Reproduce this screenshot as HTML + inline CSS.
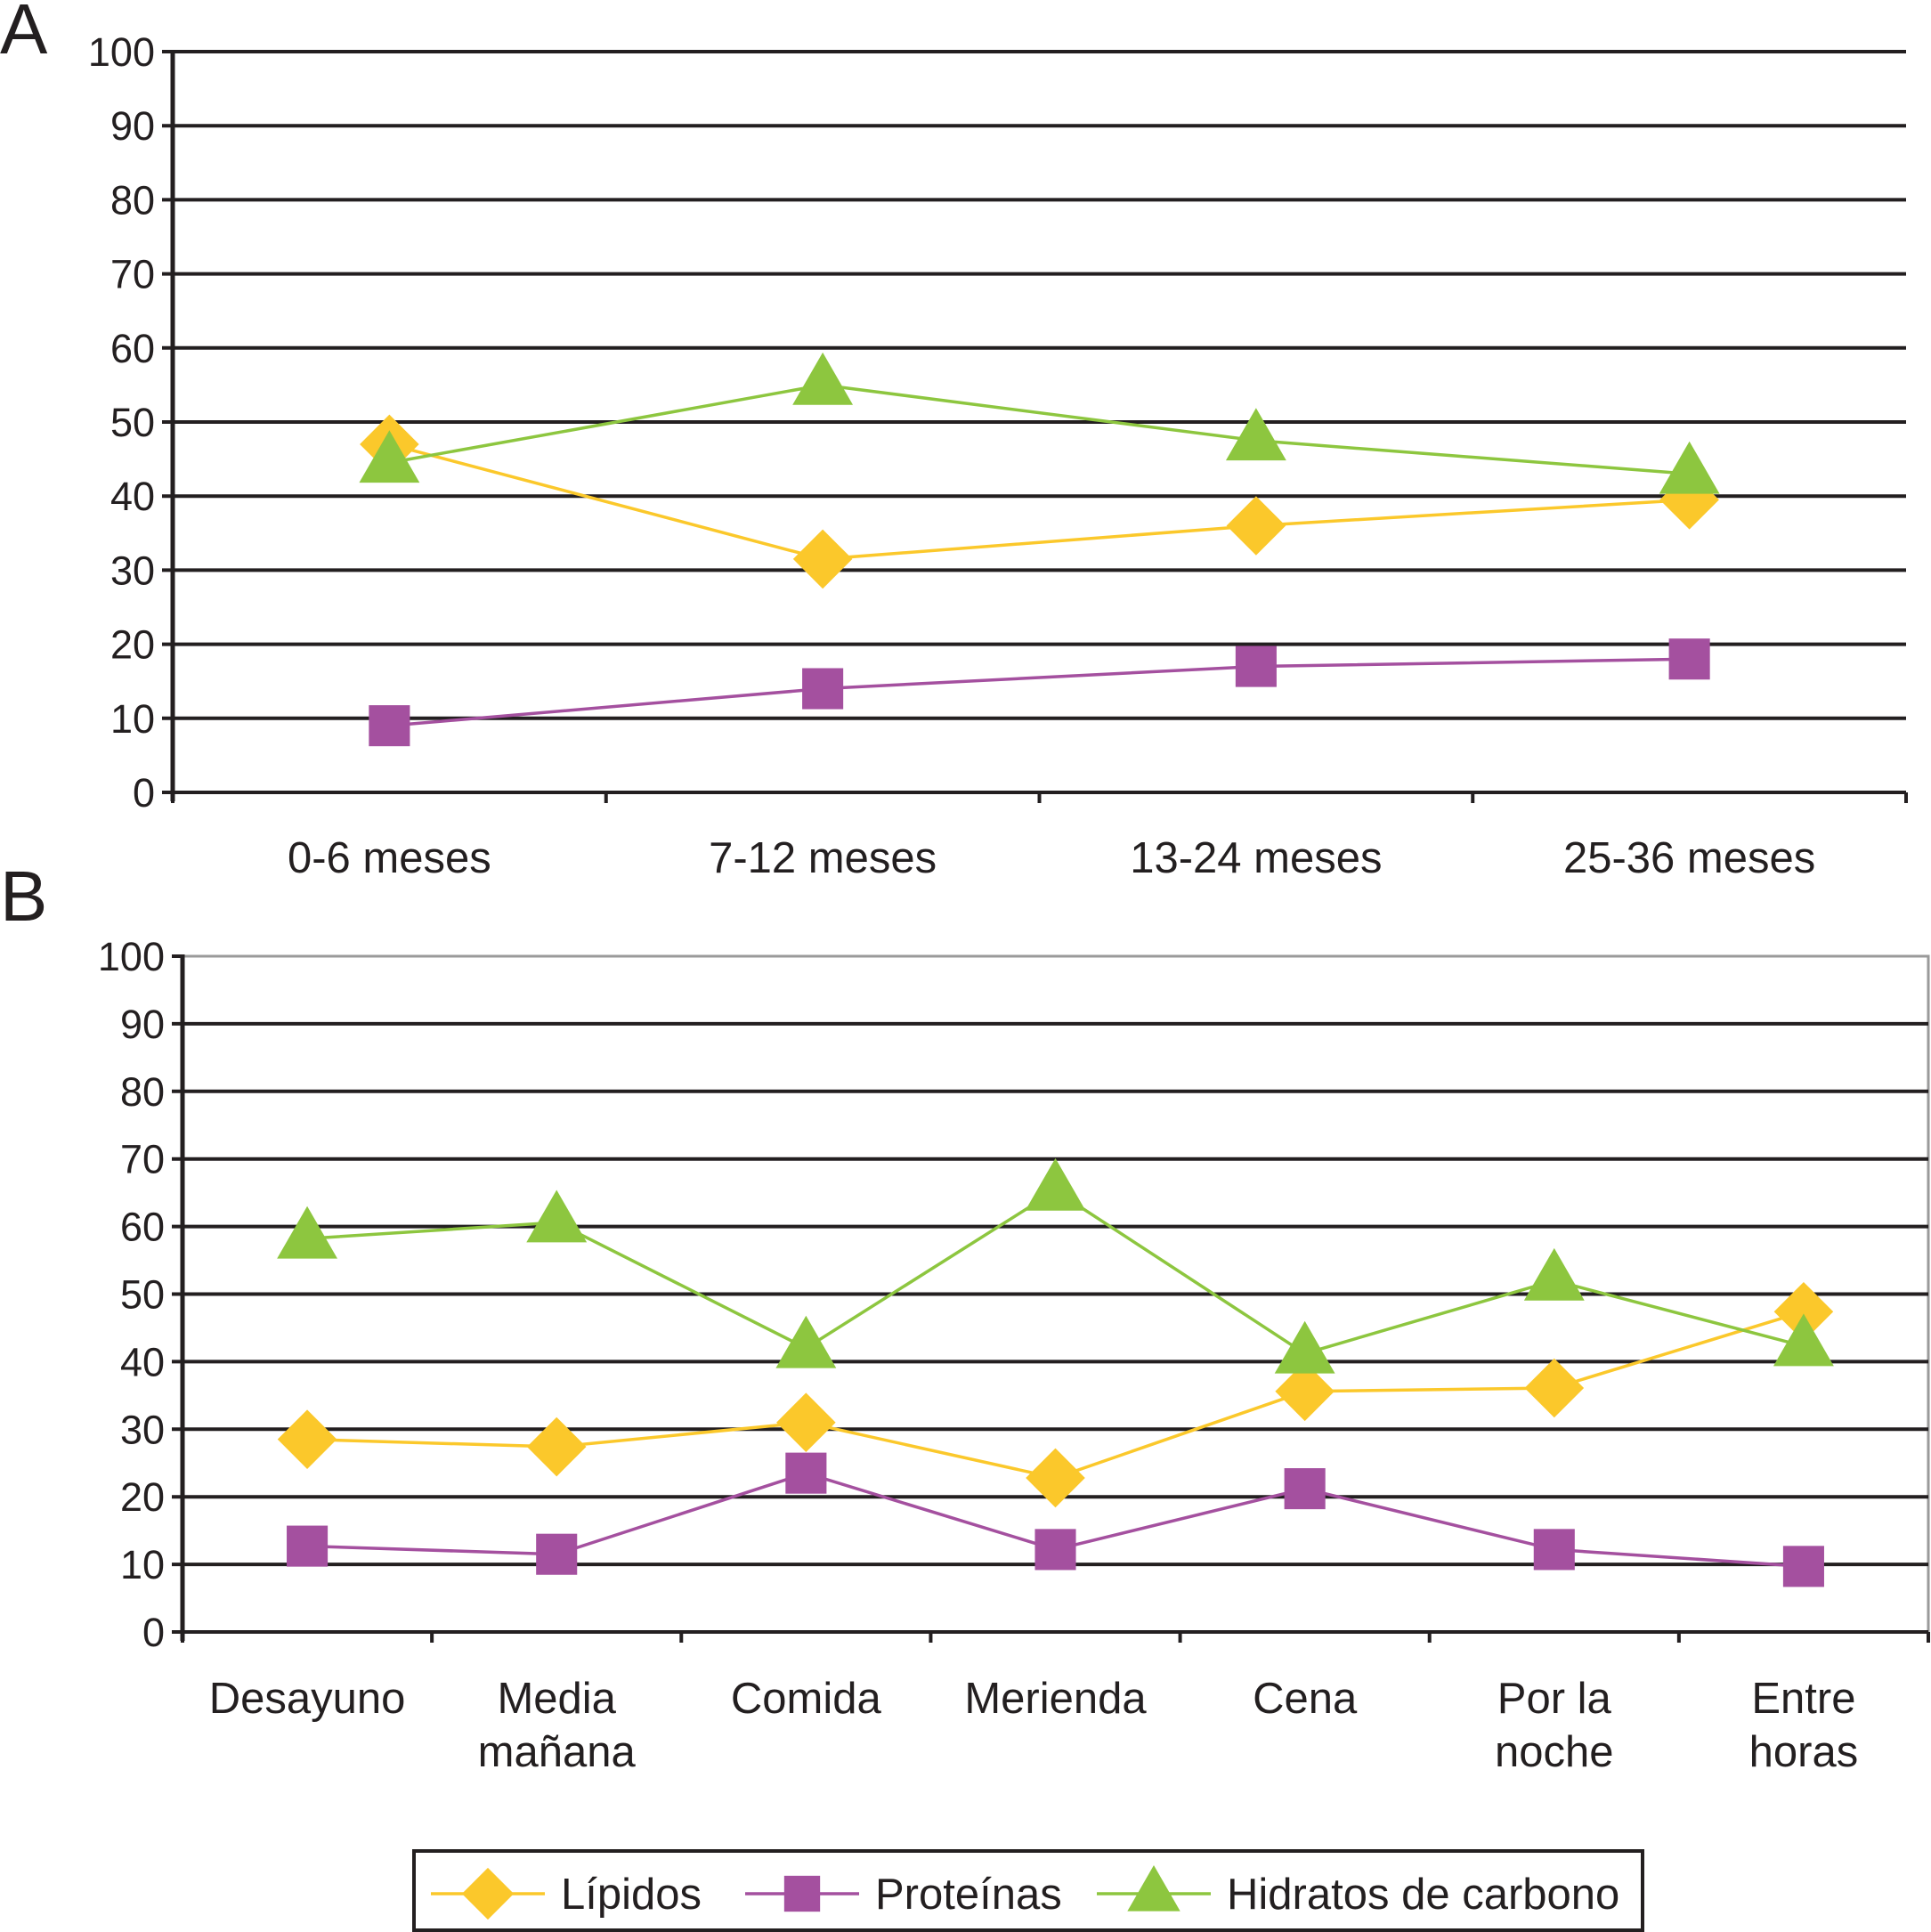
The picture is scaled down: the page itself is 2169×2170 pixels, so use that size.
<!DOCTYPE html>
<html><head><meta charset="utf-8"><style>
html,body{margin:0;padding:0;background:#fff}
svg{display:block}
text{font-family:"Liberation Sans",Arial,sans-serif;fill:#231f20}
</style></head><body>
<svg id="chart" width="2169" height="2170" viewBox="0 0 2169 2170" xmlns="http://www.w3.org/2000/svg">
<text x="0" y="60" font-size="80">A</text>
<text x="0" y="1034" font-size="80">B</text>
<g id="pa"></g>
<g id="pb"></g>
<g id="legend"></g>
</svg>
<script>
const catsA = ["0-6 meses","7-12 meses","13-24 meses","25-36 meses"];
const lipA = [47, 31.5, 36, 39.5];
const proA = [9, 14, 17, 18];
const hidA = [44.5, 55, 47.5, 43];
const catsB = [["Desayuno"],["Media","mañana"],["Comida"],["Merienda"],["Cena"],["Por la","noche"],["Entre","horas"]];
const lipB = [28.5, 27.4, 31, 22.8, 35.6, 36.1, 47.4];
const proB = [12.7, 11.5, 23.5, 12.2, 21.2, 12.2, 9.7];
const hidB = [58.2, 60.6, 42, 65.3, 41.2, 52, 42.3];
const yTicks = [0,10,20,30,40,50,60,70,80,90,100];

const NS="http://www.w3.org/2000/svg";
const YEL="#FBC82B", PUR="#A4509F", GRN="#8DC63F";
function mk(parent, tag, attrs){const e=document.createElementNS(NS,tag);for(const k in attrs)e.setAttribute(k,attrs[k]);parent.appendChild(e);return e;}

function marker(g, type, cx, cy, s){
  let e;
  if(type==="d"){e=mk(g,"polygon",{points:`${cx},${cy-s*0.52} ${cx+s*0.52},${cy} ${cx},${cy+s*0.52} ${cx-s*0.52},${cy}`,fill:YEL});}
  else if(type==="s"){const w=s*0.72;e=mk(g,"rect",{x:cx-w/2,y:cy-w/2,width:w,height:w,fill:PUR});}
  else {const h=s*0.92;e=mk(g,"polygon",{points:`${cx},${cy-h*0.62} ${cx+s*0.53},${cy+h*0.38} ${cx-s*0.53},${cy+h*0.38}`,fill:GRN});}
  return e;
}

function panel(gid, cats, series, L, R, T, B, boxGray, labelY){
  const g=document.getElementById(gid);
  const n=cats.length, step=(R-L)/n;
  const X=i=>L+step*(i+0.5);
  const Y=v=>B-(B-T)*v/100;
  if(boxGray){
    const bx=mk(g,"path",{d:`M${L},${T} H${R} V${B}`,fill:"none",stroke:"#9a9a9a","stroke-width":3});
    
    
  }
  yTicks.forEach(t=>{
    if(!(boxGray && t===100)){
      const ln=mk(g,"line",{x1:L-12,x2:R,y1:Y(t),y2:Y(t),stroke:"#231f20","stroke-width":4});
      
      
    } else {
      const tk=mk(g,"line",{x1:L-12,x2:L,y1:Y(t),y2:Y(t),stroke:"#231f20","stroke-width":4});
      
      
    }
    const tx=mk(g,"text",{x:L-20,y:Y(t)+16,"font-size":45,"text-anchor":"end"});
    tx.textContent=t;
    
    
  });
  const ax=mk(g,"line",{x1:L,x2:L,y1:T-2,y2:B+10,stroke:"#231f20","stroke-width":5});
  
  
  for(let i=0;i<=n;i++){
    const tk=mk(g,"line",{x1:L+step*i,x2:L+step*i,y1:B,y2:B+12,stroke:"#231f20","stroke-width":4});
    
    
  }
  cats.forEach((c,i)=>{
    const lines=Array.isArray(c)?c:[c];
    lines.forEach((s,j)=>{
      const tx=mk(g,"text",{x:X(i),y:labelY+j*60,"font-size":49,"text-anchor":"middle"});
      tx.textContent=s;
      
      
    });
  });
  series.forEach(([vals,col,type,name])=>{
    const pl=mk(g,"polyline",{points:vals.map((v,i)=>`${X(i)},${Y(v)}`).join(" "),fill:"none",stroke:col,"stroke-width":3.5});
    
    
    vals.forEach((v,i)=>{
      const m=marker(g,type,X(i),Y(v),64);
      
      
    });
  });
}
panel("pa", catsA, [[lipA,YEL,"d","lipidos"],[proA,PUR,"s","proteinas"],[hidA,GRN,"t","hidratos"]], 194, 2141, 58, 890, false, 980);
panel("pb", catsB, [[lipB,YEL,"d","lipidos"],[proB,PUR,"s","proteinas"],[hidB,GRN,"t","hidratos"]], 205, 2166, 1074, 1833, true, 1924);

// legend
const lg=document.getElementById("legend");
const lb=mk(lg,"rect",{x:465,y:2079,width:1380,height:89,fill:"#fff",stroke:"#231f20","stroke-width":4});


const items=[[484,YEL,"d","Lípidos"],[837,PUR,"s","Proteínas"],[1232,GRN,"t","Hidratos de carbono"]];
items.forEach(([x,c,t,label])=>{
  const l=mk(lg,"line",{x1:x,x2:x+128,y1:2127,y2:2127,stroke:c,"stroke-width":3.5});
  
  
  const m=marker(lg,t,x+64,2127,56);
  
  
  const tx=mk(lg,"text",{x:x+146,y:2144,"font-size":49});
  tx.textContent=label;
  
  
});
</script>
</body></html>
